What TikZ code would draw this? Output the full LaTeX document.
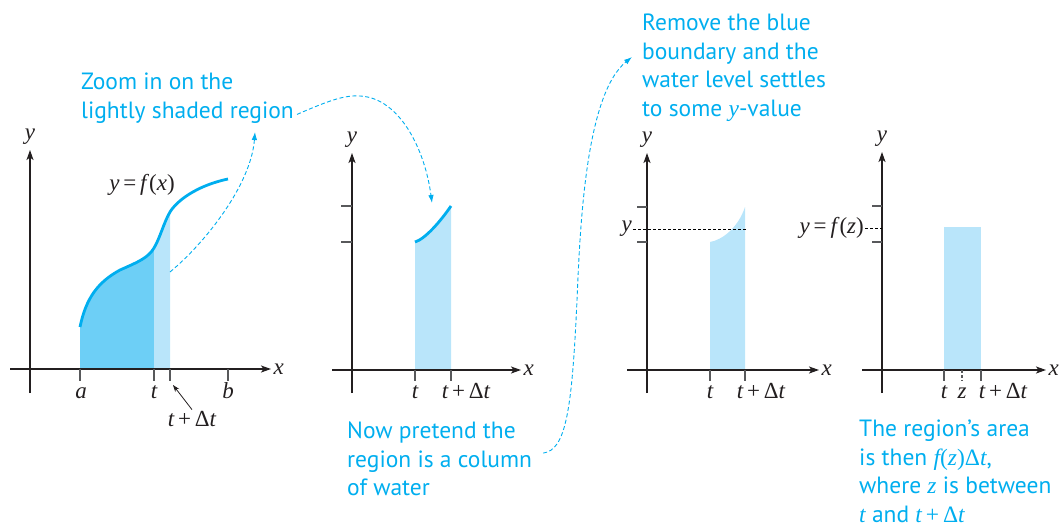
\documentclass[tikz,border=0pt]{standalone}
\usepackage{fontspec}
\setmainfont{Liberation Serif}
\newfontfamily\notefont{PT Sans}
\usetikzlibrary{arrows.meta}

\definecolor{cyanline}{HTML}{00AEEF}
\definecolor{darkfill}{HTML}{6DCFF6}
\definecolor{lightfill}{HTML}{B9E5FA}
\definecolor{axisgray}{HTML}{231F20}
\definecolor{tickgray}{HTML}{58595B}

\newcommand{\vari}[1]{{\rmfamily\itshape #1}}
\newcommand{\rmup}[1]{\textup{#1}}

\tikzset{
  axis/.style={line width=1.4pt, axisgray, -{Stealth[length=10pt,width=7pt,inset=2.5pt]}},
  tickmark/.style={line width=1.4pt, tickgray},
  fcurve/.style={line width=2.8pt, cyanline},
  level/.style={line width=0.8pt, black, dash pattern=on 3pt off 2pt},
  note/.style={text=cyanline, font=\notefont\fontsize{23.5}{28.4}\selectfont, align=left, anchor=north west, inner sep=0pt},
  lbl/.style={font=\fontsize{23}{26}\selectfont\itshape, inner sep=1pt, text=axisgray},
  zoomarrow/.style={cyanline, line width=0.9pt, dash pattern=on 4pt off 2.5pt, -{Latex[length=8pt,width=5.5pt]}},
}

\begin{document}
\begin{tikzpicture}[x=1pt, y=-1pt]
\useasboundingbox (0,0) rectangle (1062,527);

% Panel 1: the whole graph
\fill[darkfill] (80,369) -- (80,327) .. controls (86,298) and (98,282) .. (120,270)
  .. controls (138,262) and (148,258) .. (154,248) -- (154,369) -- cycle;
\fill[lightfill] (154,369) -- (154,248) .. controls (160,238) and (164,222) .. (170,212) -- (170,369) -- cycle;
\draw[fcurve] (80,327) .. controls (86,298) and (98,282) .. (120,270)
  .. controls (138,262) and (148,258) .. (154,248)
  .. controls (160,238) and (164,222) .. (170,212)
  .. controls (176,202) and (195,186) .. (228,179);
\draw[axis] (10,369) -- (271,369) node[lbl, right=1pt] (x1) {x};
\draw[axis] (30,393) -- (30,150) node[lbl, above=4pt] (y1) {y};
\draw[tickmark] (80,369) -- (80,381);
\draw[tickmark] (154,369) -- (154,381);
\draw[tickmark] (170,369) -- (170,381);
\draw[tickmark] (228,369) -- (228,381);
\node[lbl, anchor=base] (a1) at (81,398) {a};
\node[lbl, anchor=base] (t1) at (154,398) {t};
\node[lbl, anchor=base] (b1) at (228,398) {b};
\node[lbl, anchor=base] (tdt1) at (192,426) {t\,\rmup{+}\,\rmup{Δ}t};
\node[lbl, anchor=base] (fx1) at (142,190) {y\,\rmup{=}\,f\rmup{(}x\rmup{)}};
\coordinate (tip1) at (173,385);
\draw[axisgray, line width=0.8pt, -{Stealth[length=7pt,width=5pt]}] (tdt1.north) -- (tip1);

% Panel 2: the thin strip
\fill[lightfill] (415,370) -- (415,242) .. controls (425,239) and (440,222) .. (451,206) -- (451,370) -- cycle;
\draw[fcurve] (415,242) .. controls (425,239) and (440,222) .. (451,206);
\draw[axis] (332,370) -- (521,370) node[lbl, right=1pt] (x2) {x};
\draw[axis] (352,393) -- (352,153) node[lbl, above=4pt] (y2) {y};
\draw[tickmark] (341,206) -- (352,206);
\draw[tickmark] (341,242) -- (352,242);
\draw[tickmark] (415,370) -- (415,381);
\draw[tickmark] (451,370) -- (451,381);
\node[lbl, anchor=base] (t2) at (415,398) {t};
\node[lbl, anchor=base] (tdt2) at (466,398) {t\,\rmup{+}\,\rmup{Δ}t};

% Panel 3: the water settles
\fill[lightfill] (710,370) -- (710,242) .. controls (722,240) and (738,228) .. (745,207) -- (745,370) -- cycle;
\draw[axis] (627,370) -- (819,370) node[lbl, right=1pt] (x3) {x};
\draw[axis] (647,393) -- (647,153) node[lbl, above=4pt] (y3) {y};
\draw[tickmark] (637,207) -- (647,207);
\draw[tickmark] (637,242) -- (647,242);
\draw[tickmark] (710,370) -- (710,381);
\draw[tickmark] (745,370) -- (745,381);
\node[lbl, anchor=base] (t3) at (710,398) {t};
\node[lbl, anchor=base] (tdt3) at (761,398) {t\,\rmup{+}\,\rmup{Δ}t};
\node[lbl, anchor=east] (yl3) at (633,229) {y};
\coordinate (lev3) at (746,229);
\draw[level] (yl3.east) -- (lev3);

% Panel 4: the rectangle
\fill[lightfill] (944,370) rectangle (981,227);
\draw[axis] (862,370) -- (1046,370) node[lbl, right=1pt] (x4) {x};
\draw[axis] (882,393) -- (882,152) node[lbl, above=4pt] (y4) {y};
\draw[tickmark] (872,206) -- (882,206);
\draw[tickmark] (872,242) -- (882,242);
\draw[tickmark] (944,370) -- (944,381);
\draw[tickmark] (981,370) -- (981,381);
\draw[level, tickgray, line width=1.2pt] (962,370) -- (962,381);
\node[lbl, anchor=base] (t4) at (944,398) {t};
\node[lbl, anchor=base] (z4) at (962,398) {z};
\node[lbl, anchor=base] (tdt4) at (1003,398) {t\,\rmup{+}\,\rmup{Δ}t};
\node[lbl, anchor=east] (yf4) at (865,228) {y\,\rmup{=}\,f\rmup{(}z\rmup{)}};
\coordinate (lev4) at (882,228);
\draw[level] (yf4.east) -- (lev4);

% Notes
\node[note] (zoomtxt) at (81,73) {Zoom in on the\\lightly shaded region};
\node[note] (nowtxt) at (347,422) {Now pretend the\\region is a column\\of water};
\node[note] (removetxt) at (642,14) {Remove the blue\\boundary and the\\water level settles\\to some \vari{y}-value};
\node[note] (areatxt) at (859,420) {The region’s area\\is then \vari{f}{\rmfamily(}\vari{z}{\rmfamily)Δ}\vari{t},\\where \vari{z} is between\\\vari{t} and \vari{t}\,{\rmfamily+\,Δ}\vari{t}};

% Dashed arrows
\coordinate (lightreg) at (170,272);
\coordinate (zoomtip) at (255,132);
\coordinate (striptip) at (432,203);
\coordinate (removetip) at (632,57);
\draw[zoomarrow] (lightreg) .. controls (205,243) and (251,185) .. (zoomtip);
\draw[zoomarrow] ([xshift=3pt,yshift=9pt]zoomtxt.south east) .. controls (330,100) and (345,95) .. (360,96)
  .. controls (400,98) and (425,150) .. (striptip);
\draw[zoomarrow] ([xshift=11pt,yshift=6pt]nowtxt.east) .. controls (566,450) and (572,410) .. (577,300)
  .. controls (580,230) and (585,95) .. (removetip);
\end{tikzpicture}
\end{document}
